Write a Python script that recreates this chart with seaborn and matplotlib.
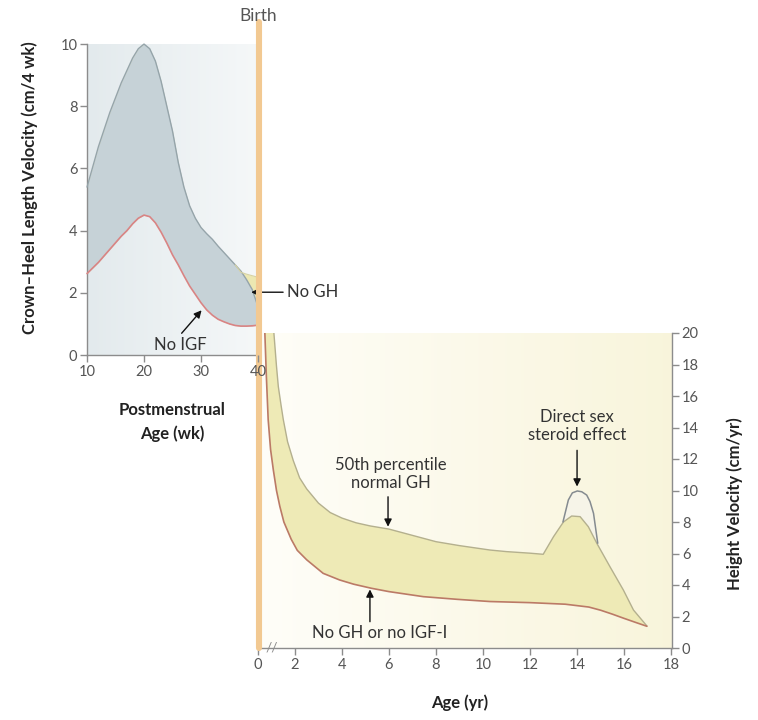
import numpy as np
import pandas as pd
import matplotlib.pyplot as plt
import matplotlib.transforms as mtransforms
from matplotlib.lines import Line2D
import seaborn as sns

# DATA - fetal period (postmenstrual weeks)
wk = [10, 12, 14, 16, 17, 18, 19, 20, 21, 22, 23, 24, 25, 26, 27, 28, 29, 30,
      31, 32, 33, 34, 35, 36, 37, 38, 39, 40, 40.5]
fetal_normal = [5.4, 6.7, 7.8, 8.75, 9.15, 9.55, 9.85, 10.0, 9.85, 9.45, 8.8, 8.0, 7.2, 6.2,
                5.4, 4.8, 4.4, 4.1, 3.9, 3.72, 3.5, 3.3, 3.1, 2.9, 2.66, 2.6, 2.55, 2.5, 2.45]
fetal_no_gh = [5.4, 6.7, 7.8, 8.75, 9.15, 9.55, 9.85, 10.0, 9.85, 9.45, 8.8, 8.0, 7.2, 6.2,
               5.4, 4.8, 4.4, 4.1, 3.9, 3.72, 3.5, 3.3, 3.1, 2.9, 2.7, 2.42, 2.1, 1.55, 1.15]
fetal_no_igf = [2.62, 2.98, 3.4, 3.82, 4.0, 4.22, 4.4, 4.5, 4.45, 4.25, 3.95, 3.6, 3.22, 2.9,
                2.55, 2.22, 1.95, 1.68, 1.45, 1.28, 1.15, 1.07, 1.0, 0.95, 0.93, 0.93, 0.94, 0.96, 0.97]

# DATA - postnatal period (years)
yr_normal = [0.86, 1.0, 1.1, 1.25, 1.37, 1.6, 1.91, 2.2, 2.5, 3.0, 3.5, 4.0, 4.6, 5.2, 6.0, 7.0,
             8.0, 9.0, 10.3, 11.0, 12.0, 12.56, 13.0, 13.42, 13.77, 14.13, 14.48, 14.84,
             15.4, 15.97, 16.4, 16.97]
hv_normal = [20.0, 17.9, 16.6, 15.4, 14.5, 13.1, 11.9, 10.8, 10.1, 9.2, 8.6, 8.25, 7.95, 7.75,
             7.55, 7.15, 6.75, 6.5, 6.22, 6.12, 6.02, 5.95, 7.07, 8.0, 8.38, 8.34, 7.7, 6.65,
             5.16, 3.68, 2.41, 1.4]
yr_no_gh = [0.37, 0.45, 0.55, 0.68, 0.83, 1.0, 1.18, 1.4, 1.8, 2.1, 2.5, 3.2, 3.9, 4.5, 5.26,
            6.0, 7.46, 8.9, 10.3, 12.0, 13.5, 14.5, 15.0, 15.5, 16.0, 16.5, 16.97]
hv_no_gh = [20.0, 17.3, 14.5, 12.6, 11.3, 10.0, 9.0, 8.0, 6.9, 6.2, 5.6, 4.74, 4.32, 4.05, 3.79,
            3.58, 3.26, 3.09, 2.95, 2.88, 2.78, 2.6, 2.4, 2.15, 1.88, 1.62, 1.38]
yr_steroid = [13.4, 13.63, 13.8, 14.01, 14.2, 14.41, 14.55, 14.7, 14.88]
hv_steroid = [8.0, 9.4, 9.85, 9.97, 9.92, 9.71, 9.3, 8.55, 6.65]

fetal_ticks = [10, 20, 30, 40]
fetal_yticks = [0, 2, 4, 6, 8, 10]
yr_ticks = [0, 2, 4, 6, 8, 10, 12, 14, 16, 18]
hv_yticks = list(range(0, 21, 2))

fetal = pd.DataFrame({'wk': wk, 'normal': fetal_normal, 'no_gh': fetal_no_gh, 'no_igf': fetal_no_igf})
post_n = pd.DataFrame({'yr': yr_normal, 'hv': hv_normal})
post_d = pd.DataFrame({'yr': yr_no_gh, 'hv': hv_no_gh})
ster = pd.DataFrame({'yr': yr_steroid, 'hv': hv_steroid})

sns.set_theme(style='white')
plt.rcParams['font.family'] = ['Lato', 'DejaVu Sans']

SPINE = '#8c8c8c'
TICKC = '#555555'

fig = plt.figure(figsize=(7.58, 7.2), dpi=100)
ax1 = fig.add_axes([0.1148, 0.5069, 0.2256, 0.4319])
ax2 = fig.add_axes([0.3404, 0.1, 0.5462, 0.4375])
ax1.set_zorder(2)
ax2.set_zorder(1)

# broken x axis: first two years compressed
def fwd(x):
    x = np.asarray(x, dtype=float)
    return np.where(x < 2, 0.43 + 0.785 * x, x)

def inv(p):
    p = np.asarray(p, dtype=float)
    return np.where(p < 2, (p - 0.43) / 0.785, p)

ax2.set_xscale('function', functions=(fwd, inv))

# background gradients
grad = np.linspace(0, 1, 256).reshape(1, -1)
c_l = np.array([0.890, 0.918, 0.929]); c_r = np.array([0.962, 0.972, 0.975])
img1 = c_l + (c_r - c_l) * grad[..., None]
ax1.imshow(img1, extent=[0, 1, 0, 1], transform=ax1.transAxes, aspect='auto', zorder=0)
c_l = np.array([0.998, 0.995, 0.975]); c_r = np.array([0.975, 0.960, 0.860])
img2 = c_l + (c_r - c_l) * grad[..., None]
ax2.imshow(img2, extent=[0, 1, 0, 1], transform=ax2.transAxes, aspect='auto', zorder=0)

# fetal panel
ax1.fill_between(fetal['wk'], fetal['no_igf'], fetal['normal'], color='#ece8b2', lw=0, zorder=1, clip_on=False)
ax1.fill_between(fetal['wk'], fetal['no_igf'], fetal['no_gh'], color='#c6d2d7', lw=0, zorder=2, clip_on=False)
sns.lineplot(data=fetal, x='wk', y='no_gh', ax=ax1, color='#95a4aa', lw=1.0, zorder=3, clip_on=False)
sns.lineplot(data=fetal[fetal['wk'] >= 36], x='wk', y='normal', ax=ax1, color='#d6d2a4', lw=0.8, zorder=3, clip_on=False)
sns.lineplot(data=fetal, x='wk', y='no_igf', ax=ax1, color='#d98484', lw=1.2, zorder=4, clip_on=False)

ax1.set_xlim(10, 40)
ax1.set_ylim(0, 10)
ax1.set_xticks(fetal_ticks)
ax1.set_yticks(fetal_yticks)
for s in ['top', 'right']:
    ax1.spines[s].set_visible(False)
for s in ['left', 'bottom']:
    ax1.spines[s].set_color(SPINE)
    ax1.spines[s].set_linewidth(1)
ax1.tick_params(bottom=True, left=True, direction='out', length=5, width=1, color=SPINE,
                labelcolor=TICKC, labelsize=10.5, pad=2)
ax1.xaxis.set_zorder(6)
ax1.set_xlabel('Postmenstrual\nAge (wk)', fontsize=12, fontweight='bold', color='#222222', linespacing=1.55)
ax1.xaxis.set_label_coords(0.497, -0.152)
ax1.xaxis.label.set_va('top')
ax1.set_ylabel('Crown\u2013Heel Length Velocity (cm/4 wk)', fontsize=12, fontweight='bold', color='#222222')
ax1.yaxis.set_label_coords(-0.333, 0.537)
ax1.yaxis.label.set_va('center')

arrow = dict(arrowstyle='-|>', color='#111111', lw=1.0, mutation_scale=11, shrinkA=0, shrinkB=0)
ax1.annotate('', xy=(38.8, 2.02), xytext=(44.4, 2.02), arrowprops=arrow, annotation_clip=False)
ax1.text(45.1, 2.02, 'No GH', fontsize=12, color='#333333', ha='left', va='center', clip_on=False)
ax1.annotate('', xy=(30.1, 1.44), xytext=(26.6, 0.7), arrowprops=arrow, annotation_clip=False)
ax1.text(26.3, 0.32, 'No IGF', fontsize=12, color='#333333', ha='center', va='center')

# postnatal panel
ax2.fill(np.concatenate([post_n['yr'], post_d['yr'][::-1]]),
         np.concatenate([post_n['hv'], post_d['hv'][::-1]]), color='#eeeab6', lw=0, zorder=1)
inner = post_n[(post_n['yr'] >= 13.4) & (post_n['yr'] <= 14.9)]
ax2.fill(np.concatenate([ster['yr'], inner['yr'][::-1]]),
         np.concatenate([ster['hv'], inner['hv'][::-1]]), color='#f6f4e8', lw=0, zorder=1)
sns.lineplot(data=post_n, x='yr', y='hv', ax=ax2, color='#b4b08e', lw=1.0, zorder=3)
sns.lineplot(data=ster, x='yr', y='hv', ax=ax2, color='#858b90', lw=1.1, zorder=3)
sns.lineplot(data=post_d, x='yr', y='hv', ax=ax2, color='#bb7a66', lw=1.2, zorder=4)

ax2.set_xlim(0, 18.04)
ax2.set_ylim(0, 20)
ax2.set_xticks(yr_ticks)
ax2.set_xticklabels([str(t) for t in yr_ticks])
ax2.set_yticks(hv_yticks)
ax2.yaxis.tick_right()
ax2.yaxis.set_label_position('right')
for s in ['top', 'left']:
    ax2.spines[s].set_visible(False)
for s in ['right', 'bottom']:
    ax2.spines[s].set_color(SPINE)
    ax2.spines[s].set_linewidth(1)
ax2.tick_params(bottom=True, right=True, left=False, labelleft=False, labelright=True,
                direction='out', length=5, width=1, color=SPINE, labelcolor=TICKC,
                labelsize=10.5, pad=2)
ax2.set_xlabel('Age (yr)', fontsize=12, fontweight='bold', color='#222222')
ax2.xaxis.set_label_coords(0.488, -0.175)
ax2.xaxis.label.set_va('center')
ax2.set_ylabel('Height Velocity (cm/yr)', fontsize=12, fontweight='bold', color='#222222', rotation=90)
ax2.yaxis.set_label_coords(1.152, 0.457)
ax2.yaxis.label.set_va('center')

ax2.text(0.75, 0, '//', fontsize=10, color=SPINE, ha='center', va='center', clip_on=False, zorder=5)

ax2.text(6.09, 11.05, '50th percentile\nnormal GH', fontsize=12, color='#333333',
         ha='center', va='center', linespacing=1.15)
ax2.annotate('', xy=(5.96, 7.7), xytext=(5.96, 9.6), arrowprops=arrow)
ax2.text(14.0, 14.1, 'Direct sex\nsteroid effect', fontsize=12, color='#333333',
         ha='center', va='center', linespacing=1.15)
ax2.annotate('', xy=(14.0, 10.25), xytext=(14.0, 12.55), arrowprops=arrow)
ax2.text(5.62, 0.95, 'No GH or no IGF-I', fontsize=12, color='#333333', ha='center', va='center')
ax2.annotate('', xy=(5.19, 3.72), xytext=(5.19, 1.67), arrowprops=arrow)

# birth line: x = birth (age 0), spanning the figure height, drawn under the top panel's tick labels
trans = mtransforms.blended_transform_factory(ax2.transData, fig.transFigure)
ax1.add_line(Line2D([0.07, 0.07], [0.1, 0.969], transform=trans, color='#f2c992', lw=4.4,
                    zorder=5, clip_on=False))
fig.text(258 / 758, 1 - 16 / 720, 'Birth', fontsize=12.5, color='#555555', ha='center', va='center')

fig.savefig('out.png', dpi=100)
